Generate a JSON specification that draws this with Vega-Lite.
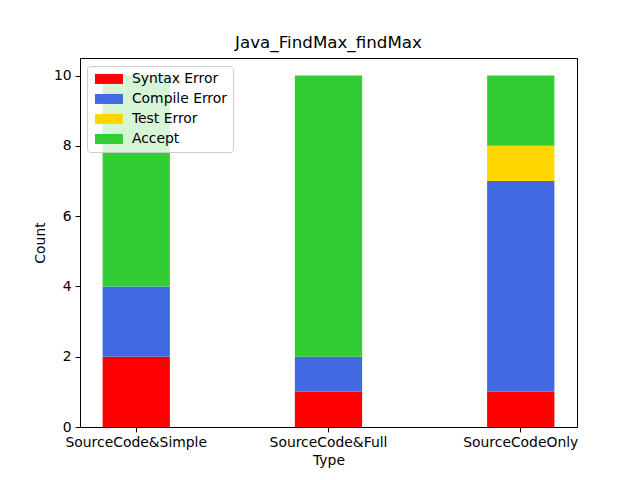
{
  "$schema": "https://vega.github.io/schema/vega-lite/v6.json",
  "width": 497,
  "height": 369,
  "autosize": {"type": "none"},
  "padding": {"left": 80, "top": 58, "right": 63, "bottom": 53},
  "title": {"text": "Java_FindMax_findMax", "font": "DejaVu Sans", "fontSize": 16.7, "fontWeight": "normal", "color": "black", "offset": 6},
  "data": {
    "values": [
      {"type": "SourceCode&Simple", "status": "Syntax Error", "count": 2, "order": 1},
      {"type": "SourceCode&Simple", "status": "Compile Error", "count": 2, "order": 2},
      {"type": "SourceCode&Simple", "status": "Test Error", "count": 0, "order": 3},
      {"type": "SourceCode&Simple", "status": "Accept", "count": 6, "order": 4},
      {"type": "SourceCode&Full", "status": "Syntax Error", "count": 1, "order": 1},
      {"type": "SourceCode&Full", "status": "Compile Error", "count": 1, "order": 2},
      {"type": "SourceCode&Full", "status": "Test Error", "count": 0, "order": 3},
      {"type": "SourceCode&Full", "status": "Accept", "count": 8, "order": 4},
      {"type": "SourceCodeOnly", "status": "Syntax Error", "count": 1, "order": 1},
      {"type": "SourceCodeOnly", "status": "Compile Error", "count": 6, "order": 2},
      {"type": "SourceCodeOnly", "status": "Test Error", "count": 1, "order": 3},
      {"type": "SourceCodeOnly", "status": "Accept", "count": 2, "order": 4}
    ]
  },
  "mark": {"type": "bar", "strokeWidth": 0},
  "encoding": {
    "x": {
      "field": "type", "type": "nominal", "sort": null, "title": "Type",
      "scale": {"paddingInner": 0.65, "paddingOuter": 0.1175},
      "axis": {"labelAngle": 0, "titlePadding": 4}
    },
    "y": {
      "field": "count", "type": "quantitative", "stack": "zero", "title": "Count",
      "scale": {"domain": [0, 10.5], "nice": false, "zero": true},
      "axis": {"values": [0, 2, 4, 6, 8, 10], "titlePadding": 6}
    },
    "color": {
      "field": "status", "type": "nominal",
      "scale": {"domain": ["Syntax Error", "Compile Error", "Test Error", "Accept"], "range": ["#ff0000", "#4169e1", "#ffd700", "#32cd32"]},
      "legend": {
        "title": null, "orient": "none", "legendX": 7, "legendY": 8,
        "symbolType": "M-1,-1L4.6,-1L4.6,1L-1,1Z",
        "symbolSize": 100, "symbolStrokeWidth": 0, "symbolOpacity": 1,
        "labelFont": "DejaVu Sans", "labelFontSize": 13.9, "labelColor": "black",
        "labelOffset": 25, "rowPadding": 5,
        "fillColor": "rgba(255,255,255,0.8)", "strokeColor": "#cccccc", "cornerRadius": 3, "padding": 6,
        "offset": 0
      }
    },
    "order": {"field": "order", "type": "quantitative"}
  },
  "config": {
    "view": {"stroke": "black", "strokeWidth": 1},
    "axis": {
      "grid": false, "domainColor": "black", "domainWidth": 1, "tickColor": "black", "tickSize": 4.9, "tickWidth": 1,
      "labelFont": "DejaVu Sans", "labelFontSize": 13.9, "labelColor": "black", "labelPadding": 4,
      "titleFont": "DejaVu Sans", "titleFontSize": 13.9, "titleFontWeight": "normal", "titleColor": "black"
    }
  }
}
